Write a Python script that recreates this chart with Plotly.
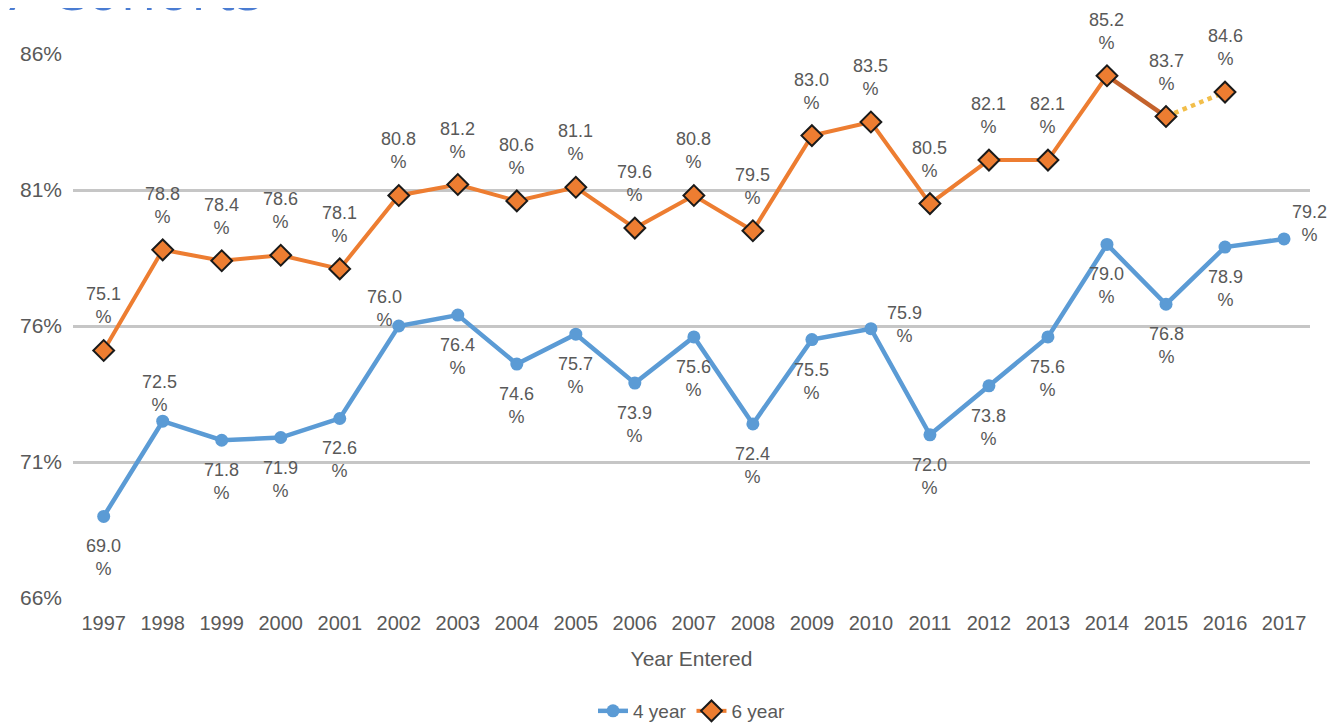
import plotly.graph_objects as go

years = [str(y) for y in range(1997, 2018)]
four_year = [69.0, 72.5, 71.8, 71.9, 72.6, 76.0, 76.4, 74.6, 75.7, 73.9, 75.6,
             72.4, 75.5, 75.9, 72.0, 73.8, 75.6, 79.0, 76.8, 78.9, 79.2]
six_year_years = [str(y) for y in range(1997, 2017)]
six_year = [75.1, 78.8, 78.4, 78.6, 78.1, 80.8, 81.2, 80.6, 81.1, 79.6, 80.8,
            79.5, 83.0, 83.5, 80.5, 82.1, 82.1, 85.2, 83.7, 84.6]
y_ticks = [66, 71, 76, 81, 86]

# label placement styles (b=below, t=above, T=well above, r=right, tl=above-left)
four_pos = ["b", "t", "b", "b", "b", "tl", "b", "b", "b", "b", "b",
            "b", "b", "r", "b", "b", "b", "b", "b", "b", "r2"]
six_pos = ["T"] * len(six_year)

BLUE = "#5B9BD5"
ORANGE = "#ED7D31"
DARK_ORANGE = "#C4622C"
GOLD = "#F2BE4A"
GRAY_TXT = "#595959"
FONT = "Liberation Sans"

W, H = 1333, 715

fig = go.Figure()

fig.add_trace(go.Scatter(
    x=years, y=four_year, mode="lines+markers", name="4 year",
    line=dict(color=BLUE, width=4.5),
    marker=dict(symbol="circle", size=13, color=BLUE),
))

# special segments for the 6-year series
fig.add_trace(go.Scatter(
    x=six_year_years[17:19], y=six_year[17:19], mode="lines", showlegend=False,
    line=dict(color=DARK_ORANGE, width=4.5), hoverinfo="skip",
))
fig.add_trace(go.Scatter(
    x=six_year_years[18:20], y=six_year[18:20], mode="lines", showlegend=False,
    line=dict(color=GOLD, width=4.5, dash="dot"), hoverinfo="skip",
))
fig.add_trace(go.Scatter(
    x=six_year_years[:18], y=six_year[:18], mode="lines+markers", name="6 year",
    line=dict(color=ORANGE, width=4),
    marker=dict(symbol="diamond", size=16, color=ORANGE,
                line=dict(color="#1a1a1a", width=2)),
))
fig.add_trace(go.Scatter(
    x=six_year_years[18:], y=six_year[18:], mode="markers", showlegend=False,
    marker=dict(symbol="diamond", size=16, color=ORANGE,
                line=dict(color="#1a1a1a", width=2)),
))

place = {
    "b": dict(xanchor="center", yanchor="top", xshift=0, yshift=-18),
    "t": dict(xanchor="center", yanchor="bottom", xshift=-3, yshift=4),
    "T": dict(xanchor="center", yanchor="bottom", xshift=0, yshift=21),
    "tl": dict(xanchor="center", yanchor="bottom", xshift=-14, yshift=-6),
    "r": dict(xanchor="left", yanchor="middle", xshift=14, yshift=4),
    "r2": dict(xanchor="left", yanchor="middle", xshift=6, yshift=15),
}

annotations = []
for xs, ys, poss in [(years, four_year, four_pos), (six_year_years, six_year, six_pos)]:
    for i, (yv, p) in enumerate(zip(ys, poss)):
        annotations.append(dict(
            x=years.index(xs[i]), y=yv, xref="x", yref="y", text=f"{yv:.1f}<br>%",
            showarrow=False, font=dict(family=FONT, size=18, color=GRAY_TXT),
            **place[p]))

# clipped title at the top-left
annotations.append(dict(
    x=(254 - 62) / 1240, y=(590 - 21) / 544, xref="paper", yref="paper",
    text="Graduation Rates, 1997-2017 Cohorts", showarrow=False,
    xanchor="right", yanchor="bottom",
    font=dict(family="Open Sans", size=58, color="#4A7CD2"),
))

fig.update_layout(
    width=W, height=H,
    margin=dict(l=62, r=W - 1302, t=46, b=H - 590),
    paper_bgcolor="white", plot_bgcolor="white",
    font=dict(family=FONT, size=18, color=GRAY_TXT),
    annotations=annotations,
    showlegend=True,
    legend=dict(orientation="h", x=0.5, xanchor="center",
                yref="container", y=1 - 703 / H, yanchor="middle",
                font=dict(family=FONT, size=19, color=GRAY_TXT),
                itemwidth=30, traceorder="normal"),
    xaxis=dict(
        type="category", categoryorder="array", categoryarray=years,
        range=[-0.52, 20.44], showgrid=False, zeroline=False, showline=False,
        ticks="", tickfont=dict(family=FONT, size=20, color=GRAY_TXT),
        ticklabelstandoff=11,
        title=dict(text="Year Entered", font=dict(family=FONT, size=21, color=GRAY_TXT),
                   standoff=18),
    ),
    yaxis=dict(
        range=[66, 86], tickvals=y_ticks, ticktext=[f"{v}%" for v in y_ticks],
        showgrid=True, gridcolor="#C6C6C6", gridwidth=2.5, zeroline=False,
        showline=False, ticks="", ticklabelstandoff=10,
        tickfont=dict(family=FONT, size=21, color=GRAY_TXT),
    ),
)
for tr in fig.data:
    tr.cliponaxis = False

fig.write_html("out.html")
